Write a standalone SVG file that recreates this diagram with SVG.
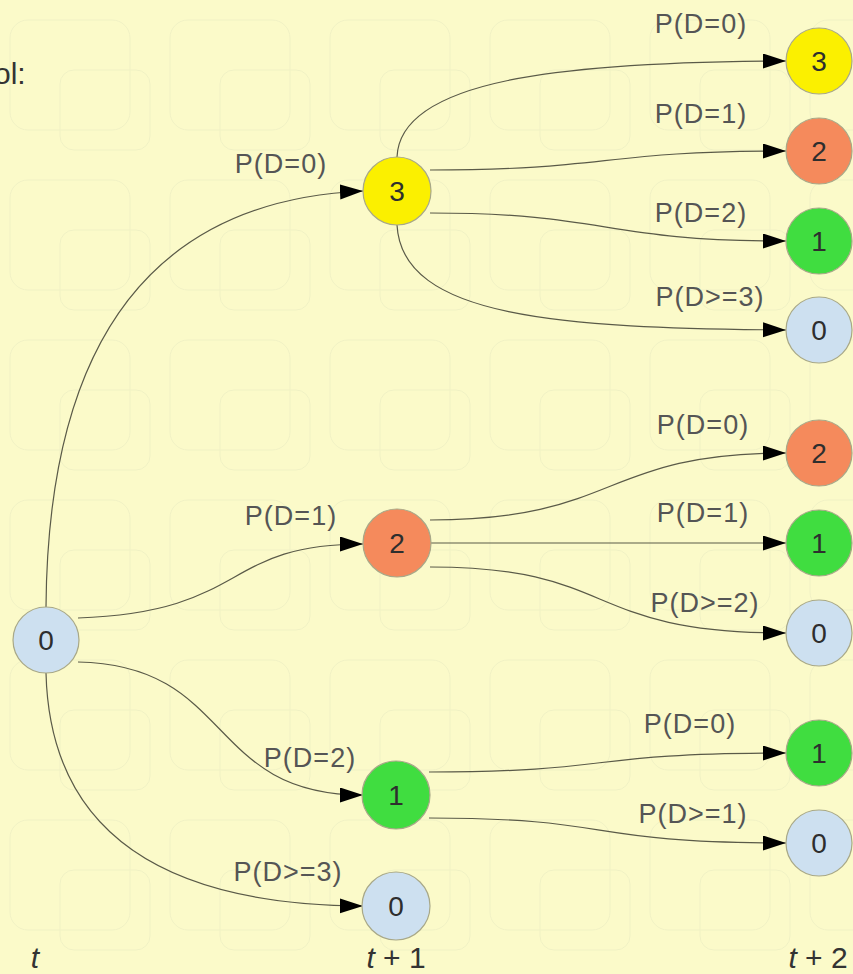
<svg xmlns="http://www.w3.org/2000/svg" width="853" height="974" viewBox="0 0 853 974">
<defs>
<style>
.edge{fill:none;stroke:#5a5a48;stroke-width:1.2}
.lbl{font-family:"Liberation Sans",Arial,sans-serif;font-size:27px;fill:#555;text-anchor:middle;letter-spacing:1px}
.num{font-family:"Liberation Sans",Arial,sans-serif;font-size:28px;fill:#2e2e2e;text-anchor:middle}
.nd{stroke:#a8a888;stroke-width:1.2}
.y{fill:#FBF000}
.o{fill:#F58A5C}
.g{fill:#40DD40}
.b{fill:#CDE0F0}
.ax{font-family:"Liberation Sans",Arial,sans-serif;font-size:30px;fill:#333;text-anchor:middle}
.grid{fill:none;stroke:#F0F1C4;stroke-width:1}
</style>
<marker id="arr" markerUnits="userSpaceOnUse" markerWidth="25" markerHeight="16" refX="23" refY="7.5" orient="auto">
<path d="M0,0 L23,7.5 L0,15 z" fill="#000"/>
</marker>
<pattern id="bgp" patternUnits="userSpaceOnUse" width="160" height="160">
<rect x="10" y="20" width="120" height="110" rx="18" class="grid"/>
<rect x="60" y="70" width="90" height="80" rx="14" class="grid"/>
</pattern>
</defs>
<rect width="853" height="974" fill="#FBFAC9"/>
<rect width="853" height="974" fill="url(#bgp)"/>
<text x="-6" y="84" font-family="Liberation Sans,Arial,sans-serif" font-size="30" fill="#333">ol:</text>
<g id="connectors">
<path class="edge" marker-end="url(#arr)" d="M46,607 C48,330 160,200 363,191"/>
<path class="edge" marker-end="url(#arr)" d="M78,618 C250,612 220,544 363,544"/>
<path class="edge" marker-end="url(#arr)" d="M78,662 C235,665 205,795 363,795"/>
<path class="edge" marker-end="url(#arr)" d="M46,673 C50,830 160,905 363,906"/>
<path class="edge" marker-end="url(#arr)" d="M397,157 C400,80 560,62 786,61"/>
<path class="edge" marker-end="url(#arr)" d="M430,170 C610,170 600,151 786,151"/>
<path class="edge" marker-end="url(#arr)" d="M430,213 C610,213 600,241 786,241"/>
<path class="edge" marker-end="url(#arr)" d="M397,225 C402,318 560,328 786,330"/>
<path class="edge" marker-end="url(#arr)" d="M430,520 C620,520 600,453 786,453"/>
<path class="edge" marker-end="url(#arr)" d="M431,543 L786,543"/>
<path class="edge" marker-end="url(#arr)" d="M430,567 C620,567 580,633 786,633"/>
<path class="edge" marker-end="url(#arr)" d="M429,772 C620,772 580,753 786,753"/>
<path class="edge" marker-end="url(#arr)" d="M429,818 C620,818 580,843 786,843"/>
<text class="lbl" x="281" y="173">P(D=0)</text>
<text class="lbl" x="291" y="525">P(D=1)</text>
<text class="lbl" x="310" y="767">P(D=2)</text>
<text class="lbl" x="288" y="881">P(D&gt;=3)</text>
<text class="lbl" x="701" y="33">P(D=0)</text>
<text class="lbl" x="701" y="123">P(D=1)</text>
<text class="lbl" x="701" y="222">P(D=2)</text>
<text class="lbl" x="710" y="306">P(D&gt;=3)</text>
<text class="lbl" x="703" y="434">P(D=0)</text>
<text class="lbl" x="703" y="522">P(D=1)</text>
<text class="lbl" x="705" y="612">P(D&gt;=2)</text>
<text class="lbl" x="690" y="733">P(D=0)</text>
<text class="lbl" x="693" y="823">P(D&gt;=1)</text>
</g>
<g id="n_t0"><circle class="nd b" cx="46" cy="640" r="33"/><text class="num" x="46" y="650">0</text></g>
<g id="n_t1_3"><circle class="nd y" cx="397" cy="191" r="34"/><text class="num" x="397" y="201">3</text></g>
<g id="n_t1_2"><circle class="nd o" cx="397" cy="543" r="34"/><text class="num" x="397" y="553">2</text></g>
<g id="n_t1_1"><circle class="nd g" cx="396" cy="795" r="34"/><text class="num" x="396" y="805">1</text></g>
<g id="n_t1_0"><circle class="nd b" cx="396" cy="906" r="34"/><text class="num" x="396" y="916">0</text></g>
<g id="n_a3"><circle class="nd y" cx="819" cy="61" r="33"/><text class="num" x="819" y="71">3</text></g>
<g id="n_a2"><circle class="nd o" cx="819" cy="151" r="33"/><text class="num" x="819" y="161">2</text></g>
<g id="n_a1"><circle class="nd g" cx="819" cy="241" r="33"/><text class="num" x="819" y="251">1</text></g>
<g id="n_a0"><circle class="nd b" cx="819" cy="330" r="33"/><text class="num" x="819" y="340">0</text></g>
<g id="n_b2"><circle class="nd o" cx="819" cy="453" r="33"/><text class="num" x="819" y="463">2</text></g>
<g id="n_b1"><circle class="nd g" cx="819" cy="543" r="33"/><text class="num" x="819" y="553">1</text></g>
<g id="n_b0"><circle class="nd b" cx="819" cy="633" r="33"/><text class="num" x="819" y="643">0</text></g>
<g id="n_c1"><circle class="nd g" cx="819" cy="753" r="33"/><text class="num" x="819" y="763">1</text></g>
<g id="n_c0"><circle class="nd b" cx="819" cy="843" r="33"/><text class="num" x="819" y="853">0</text></g>
<g id="axis">
<text class="ax" x="35" y="968" font-style="italic">t</text>
<text class="ax" x="396" y="968"><tspan font-style="italic">t</tspan> + 1</text>
<text class="ax" x="818" y="968"><tspan font-style="italic">t</tspan> + 2</text>
</g>
</svg>
